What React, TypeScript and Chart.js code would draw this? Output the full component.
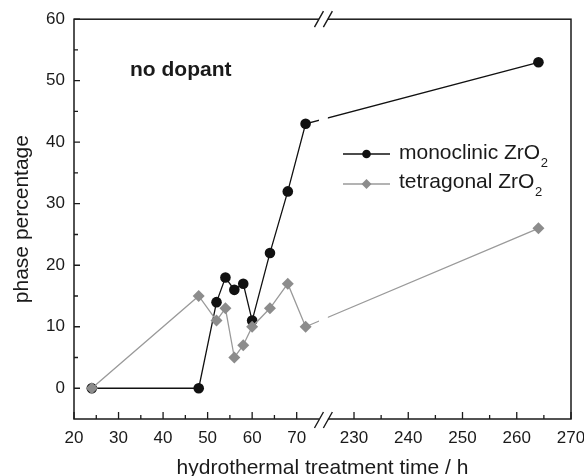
import React, { useEffect, useRef } from 'react';
import { Chart, registerables } from 'chart.js';

Chart.register(...registerables);

// ---- data ----
const hours = [24, 48, 52, 54, 56, 58, 60, 64, 68, 72, 264];
const monoclinic = [0, 0, 14, 18, 16, 17, 11, 22, 32, 43, 53];
const tetragonal = [0, 15, 11, 13, 5, 7, 10, 13, 17, 10, 26];
const xTickLabels = [20, 30, 40, 50, 60, 70, 230, 240, 250, 260, 270];
const xMinorTicks = [25, 35, 45, 55, 65, 235, 245, 255, 265];
const yTickLabels = [0, 10, 20, 30, 40, 50, 60];
const yMinorTicks = [5, 15, 25, 35, 45, 55];
const seriesNames = ['monoclinic ZrO', 'tetragonal ZrO'];
const annotationText = 'no dopant';
const xTitle = 'hydrothermal treatment time / h';
const yTitle = 'phase percentage';

// ---- broken axis mapping (hours -> axis units) ----
const BREAK_LOW = 75;
const BREAK_HIGH = 77;
const RIGHT_START = 230;
const RIGHT_START_V = 82.87;
const RIGHT_SCALE = 1.218;
const toAxis = (h: number) => (h <= BREAK_HIGH ? h : RIGHT_START_V + (h - RIGHT_START) * RIGHT_SCALE);
const fromAxis = (v: number) => (v <= BREAK_HIGH ? v : RIGHT_START + (v - RIGHT_START_V) / RIGHT_SCALE);

const BLACK = '#111111';
const GRAY_LINE = '#9a9a9a';
const GRAY_PT = '#8c8c8c';
const TEXT = '#1a1a1a';
const FONT = '"Liberation Sans", Arial, sans-serif';

function diamond(ctx: CanvasRenderingContext2D, x: number, y: number, r: number) {
  ctx.beginPath();
  ctx.moveTo(x - r, y);
  ctx.lineTo(x, y - r);
  ctx.lineTo(x + r, y);
  ctx.lineTo(x, y + r);
  ctx.closePath();
  ctx.fill();
}

const decorPlugin = {
  id: 'decor',
  beforeDatasetsDraw(chart: any) {
    const { ctx, chartArea: a, scales } = chart;
    const xs = scales.x;
    const ys = scales.y;
    ctx.save();
    ctx.strokeStyle = TEXT;
    ctx.lineWidth = 1.5;
    ctx.strokeRect(a.left, a.top, a.right - a.left, a.bottom - a.top);
    ctx.lineWidth = 1.3;
    ctx.beginPath();
    xTickLabels.forEach((h) => {
      const px = xs.getPixelForValue(toAxis(h));
      ctx.moveTo(px, a.bottom);
      ctx.lineTo(px, a.bottom - 7);
    });
    xMinorTicks.forEach((h) => {
      const px = xs.getPixelForValue(toAxis(h));
      ctx.moveTo(px, a.bottom);
      ctx.lineTo(px, a.bottom - 4);
    });
    yTickLabels.forEach((v) => {
      const py = ys.getPixelForValue(v);
      ctx.moveTo(a.left, py);
      ctx.lineTo(a.left + 6, py);
    });
    yMinorTicks.forEach((v) => {
      const py = ys.getPixelForValue(v);
      ctx.moveTo(a.left, py);
      ctx.lineTo(a.left + 4, py);
    });
    ctx.stroke();
    ctx.restore();
  },
  afterDatasetsDraw(chart: any) {
    const { ctx, chartArea: a, scales } = chart;
    const xs = scales.x;
    const g0 = xs.getPixelForValue(BREAK_LOW);
    const g1 = xs.getPixelForValue(BREAK_HIGH);
    ctx.save();
    // break gap
    ctx.fillStyle = '#ffffff';
    ctx.fillRect(g0, a.top - 2, g1 - g0, a.bottom - a.top + 4);
    // break marks
    ctx.strokeStyle = TEXT;
    ctx.lineWidth = 1.4;
    ctx.beginPath();
    [a.top, a.bottom + 1].forEach((yy) => {
      [g0, g1].forEach((xx) => {
        ctx.moveTo(xx - 4.5, yy + 8);
        ctx.lineTo(xx + 4.5, yy - 8);
      });
    });
    ctx.stroke();

    // annotation
    ctx.fillStyle = TEXT;
    ctx.font = `bold 21px ${FONT}`;
    ctx.textAlign = 'left';
    ctx.textBaseline = 'alphabetic';
    ctx.fillText(annotationText, 130, 76);

    // legend
    const rows = [
      { y: 154, base: 158.5, line: BLACK, pt: BLACK, shape: 'circle' },
      { y: 184, base: 188, line: GRAY_LINE, pt: GRAY_PT, shape: 'diamond' },
    ];
    rows.forEach((r, i) => {
      ctx.strokeStyle = r.line;
      ctx.lineWidth = 1.3;
      ctx.beginPath();
      ctx.moveTo(343, r.y);
      ctx.lineTo(390, r.y);
      ctx.stroke();
      ctx.fillStyle = r.pt;
      if (r.shape === 'circle') {
        ctx.beginPath();
        ctx.arc(366.5, r.y, 4.3, 0, Math.PI * 2);
        ctx.fill();
      } else {
        diamond(ctx, 366.5, r.y, 5);
      }
      ctx.fillStyle = TEXT;
      ctx.font = `21px ${FONT}`;
      ctx.fillText(seriesNames[i], 399, r.base);
      const w = ctx.measureText(seriesNames[i]).width;
      ctx.font = `13px ${FONT}`;
      ctx.fillText('2', 399 + w + 0.5, r.base + 8);
    });
    ctx.restore();
  },
};

export default function App() {
  const ref = useRef<HTMLCanvasElement>(null);
  useEffect(() => {
    if (!ref.current) return;
    const chart = new Chart(ref.current, {
      type: 'line',
      data: {
        datasets: [
          {
            label: seriesNames[1],
            data: hours.map((h, i) => ({ x: toAxis(h), y: tetragonal[i] })),
            borderColor: GRAY_LINE,
            backgroundColor: GRAY_PT,
            pointBackgroundColor: GRAY_PT,
            pointBorderWidth: 0,
            pointStyle: 'rectRot',
            pointRadius: 6,
            borderWidth: 1.3,
            tension: 0,
            order: 0,
          },
          {
            label: seriesNames[0],
            data: hours.map((h, i) => ({ x: toAxis(h), y: monoclinic[i] })),
            borderColor: BLACK,
            backgroundColor: BLACK,
            pointBackgroundColor: BLACK,
            pointBorderWidth: 0,
            pointStyle: 'circle',
            pointRadius: 5.3,
            borderWidth: 1.3,
            tension: 0,
            order: 1,
          },
        ],
      },
      options: {
        responsive: false,
        animation: false,
        devicePixelRatio: 1,
        layout: { padding: { left: 0, top: 19, right: 13, bottom: 0 } },
        plugins: { legend: { display: false }, tooltip: { enabled: false } },
        scales: {
          x: {
            type: 'linear',
            min: 20,
            max: toAxis(270),
            grid: { display: false, drawTicks: false },
            border: { display: false },
            afterBuildTicks: (s: any) => {
              s.ticks = xTickLabels.map((h) => ({ value: toAxis(h) }));
            },
            afterFit: (s: any) => {
              s.height = 57;
              s.paddingLeft = 0;
              s.paddingRight = 0;
            },
            ticks: {
              autoSkip: false,
              maxRotation: 0,
              padding: 9,
              color: TEXT,
              font: { family: FONT, size: 17 },
              callback: (v: any) => String(Math.round(fromAxis(Number(v)))),
            },
            title: {
              display: true,
              text: xTitle,
              color: TEXT,
              font: { family: FONT, size: 21, lineHeight: 0.7 },
              padding: { top: 0, bottom: 0 },
            },
          },
          y: {
            type: 'linear',
            min: -5,
            max: 60,
            grid: { display: false, drawTicks: false },
            border: { display: false },
            afterBuildTicks: (s: any) => {
              s.ticks = yTickLabels.map((v) => ({ value: v }));
            },
            afterFit: (s: any) => {
              s.width = 74;
            },
            ticks: {
              padding: 9,
              color: TEXT,
              font: { family: FONT, size: 17 },
            },
            title: {
              display: true,
              text: yTitle,
              color: TEXT,
              font: { family: FONT, size: 21 },
              padding: { top: 10, bottom: 0 },
            },
          },
        },
      },
      plugins: [decorPlugin],
    } as any);
    return () => chart.destroy();
  }, []);
  return (
    <div style={{ position: 'absolute', left: 0, top: 0, width: 584, height: 476, background: '#fff' }}>
      <canvas ref={ref} width={584} height={476} style={{ display: 'block' }} />
    </div>
  );
}
